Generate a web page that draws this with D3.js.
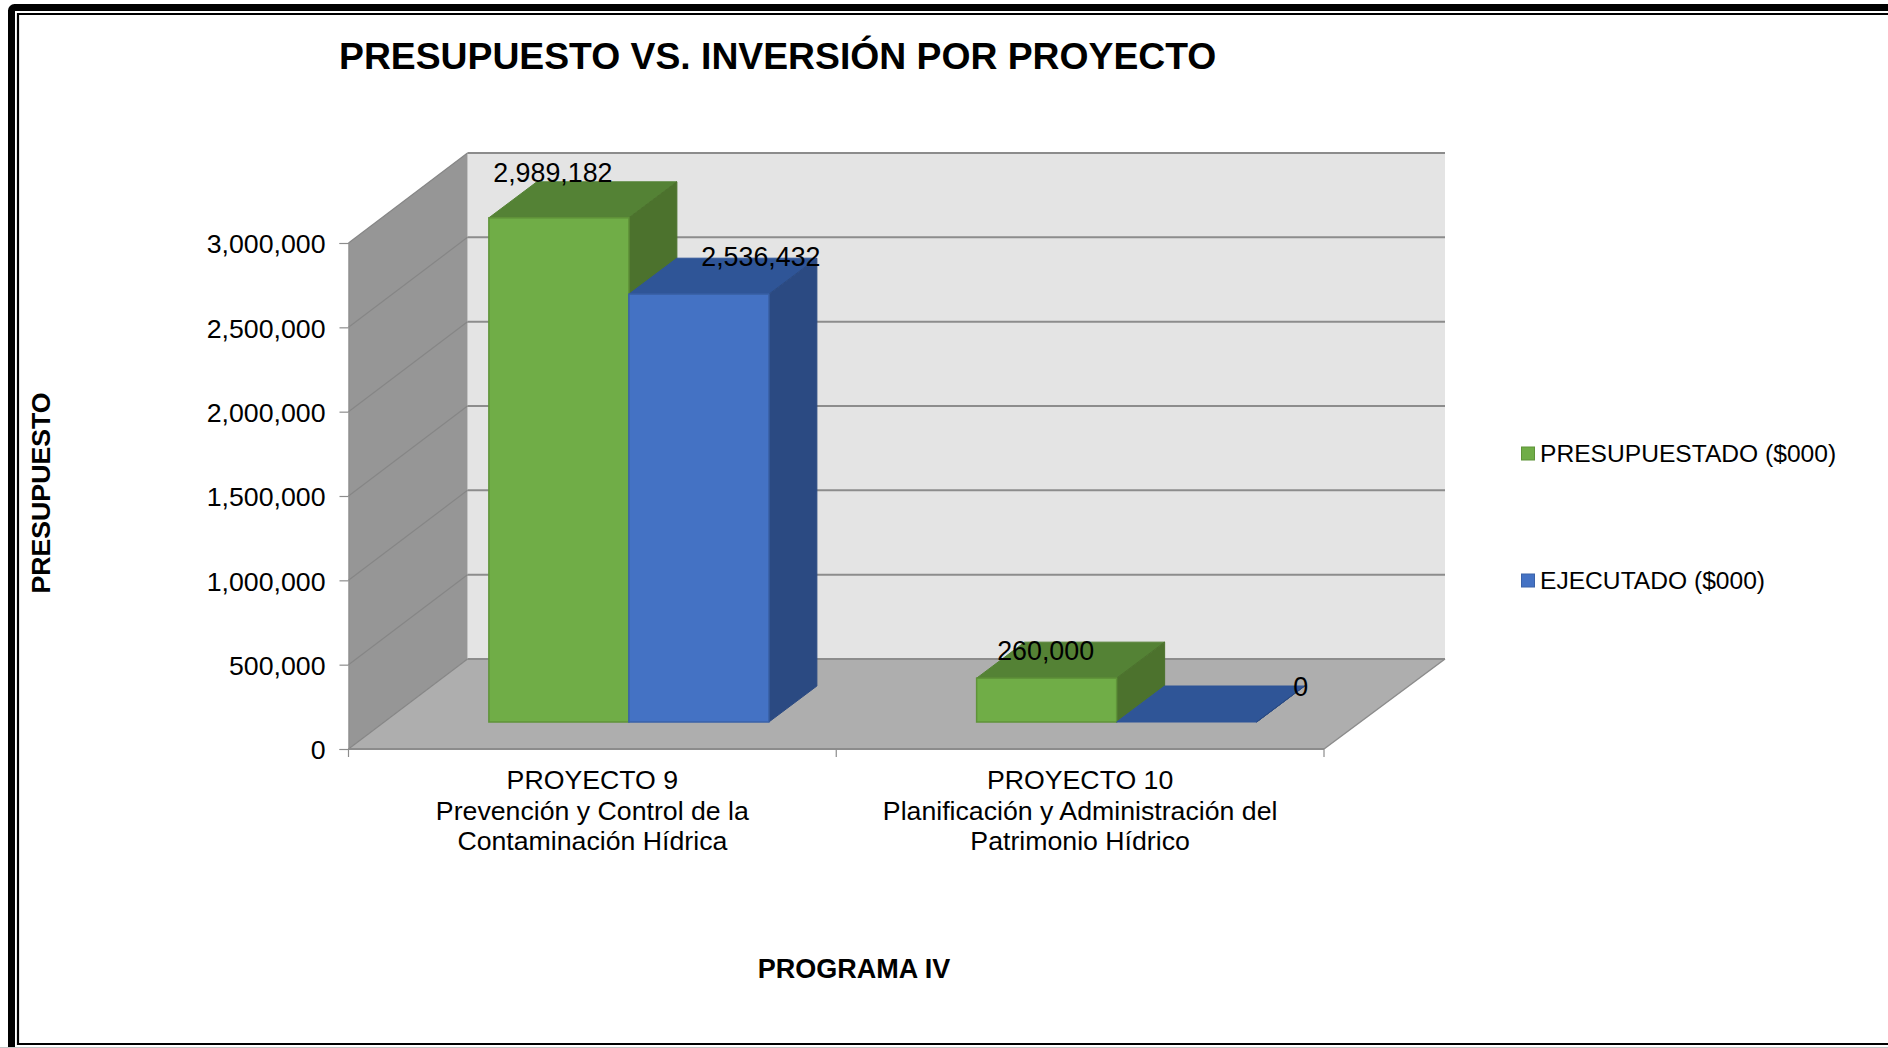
<!DOCTYPE html>
<html>
<head>
<meta charset="utf-8">
<script src="https://cdn.jsdelivr.net/npm/d3@7"></script>
<style>
    html, body { margin: 0; padding: 0; background: #fff; }
    svg { display: block; }
    text { font-family: "Liberation Sans", Arial, sans-serif; fill: #000; }
</style>
</head>
<body>
<svg id="chart"></svg>
<script>
// Data
const projects = ['PROYECTO 9', 'PROYECTO 10'];
const projectLabels = [
    ['PROYECTO 9', 'Prevención y Control de la', 'Contaminación Hídrica'],
    ['PROYECTO 10', 'Planificación y Administración del', 'Patrimonio Hídrico']
];
const seriesNames = ['PRESUPUESTADO ($000)', 'EJECUTADO ($000)'];
const presupuestado = [2989182, 260000];
const ejecutado = [2536432, 0];
const yTicks = [0, 500000, 1000000, 1500000, 2000000, 2500000, 3000000];

const colors = [
    { front: '#70ad47', top: '#548235', side: '#4c722d', edge: '#5f9339' },
    { front: '#4472c4', top: '#2f5597', side: '#2b4a82', edge: '#3a62a8' }
];

const width = 1888;
const height = 1048;

// Box of the 3D plot
const x0 = 348.5, x1 = 1324;
const yFloor = 749, yTop = 243;
const depthX = 119, depthY = -90;
// bars stand 30% into the floor and are this deep
const barShiftX = 36.5, barShiftY = -27;
const barDepthX = 48, barDepthY = -36;

const svg = d3.select('#chart').attr('width', width).attr('height', height);

const y = d3.scaleLinear().domain([0, 3000000]).range([yFloor, yTop]);
const xCat = d3.scaleBand().domain(projects).range([x0, x1]);
const xBar = d3.scaleBand().domain([0, 1]).range([0, 280]);
const barPad = (xCat.bandwidth() - 280) / 2;

const poly = pts => pts.map(p => p.join(',')).join(' ');

// Frame around the picture
svg.append('rect').attr('x', 11.5).attr('y', 7.5).attr('width', 1900).attr('height', 1100)
    .attr('rx', 3).attr('fill', 'none').attr('stroke', '#000').attr('stroke-width', 7);
svg.append('path').attr('d', `M${width + 5},14H18V1044H${width + 5}`)
    .attr('fill', 'none').attr('stroke', '#000').attr('stroke-width', 2.2);
svg.append('path').attr('d', `M0,1047.5H${width}`).attr('stroke', '#c4c4c4').attr('stroke-width', 1);

// Walls and floor
svg.append('polygon').attr('fill', '#e4e4e4')
    .attr('points', poly([[x0 + depthX, yTop + depthY], [x1 + depthX + 2, yTop + depthY], [x1 + depthX + 2, yFloor + depthY], [x0 + depthX, yFloor + depthY]]));
svg.append('polygon').attr('fill', '#969696')
    .attr('points', poly([[x0, yTop], [x0 + depthX, yTop + depthY], [x0 + depthX, yFloor + depthY], [x0, yFloor]]));
svg.append('polygon').attr('fill', '#aeaeae')
    .attr('points', poly([[x0, yFloor], [x0 + depthX, yFloor + depthY], [x1 + depthX + 2, yFloor + depthY], [x1, yFloor]]));

// Gridlines on both walls
const grid = svg.append('g');
grid.selectAll('.back').data(yTicks).enter().append('line')
    .attr('class', 'back')
    .attr('x1', x0 + depthX).attr('x2', x1 + depthX + 2)
    .attr('y1', d => y(d) + depthY).attr('y2', d => y(d) + depthY)
    .attr('stroke', '#8c8c8c').attr('stroke-width', 2);
grid.selectAll('.wall').data(yTicks).enter().append('line')
    .attr('class', 'wall')
    .attr('x1', x0).attr('x2', x0 + depthX)
    .attr('y1', d => y(d)).attr('y2', d => y(d) + depthY)
    .attr('stroke', '#868686').attr('stroke-width', 1.2);
grid.append('line').attr('x1', x1).attr('y1', yFloor).attr('x2', x1 + depthX + 2).attr('y2', yFloor + depthY)
    .attr('stroke', '#8c8c8c').attr('stroke-width', 1.5);

// Bars: each one is front + top + side
const bars = [];
projects.forEach((p, i) => {
    [presupuestado[i], ejecutado[i]].forEach((v, s) => {
        bars.push({ project: p, series: s, value: v });
    });
});

function drawBar(g, d) {
    const left = xCat(d.project) + barShiftX + barPad + xBar(d.series);
    const right = left + xBar.bandwidth();
    const base = yFloor + barShiftY;
    const top = y(d.value) + barShiftY;
    const c = colors[d.series];
    g.append('polygon').attr('fill', c.top).attr('stroke', c.top).attr('stroke-width', 1)
        .attr('points', poly([[left, top], [left + barDepthX, top + barDepthY], [right + barDepthX, top + barDepthY], [right, top]]));
    g.append('polygon').attr('fill', c.side).attr('stroke', c.side).attr('stroke-width', 1)
        .attr('points', poly([[right, top], [right + barDepthX, top + barDepthY], [right + barDepthX, base + barDepthY], [right, base]]));
    g.append('rect').attr('x', left).attr('y', top).attr('width', right - left).attr('height', base - top)
        .attr('fill', c.front).attr('stroke', c.edge).attr('stroke-width', 1.5);
}

const barLayer = svg.append('g');
bars.forEach(b => drawBar(barLayer, b));

// Value axis
const yAxis = d3.axisLeft(y).tickValues(yTicks).tickSize(9).tickPadding(14).tickFormat(d3.format(','));
const yG = svg.append('g').attr('transform', `translate(${x0},0)`).call(yAxis);
yG.select('.domain').attr('stroke', '#8c8c8c').attr('stroke-width', 1);
yG.selectAll('line').attr('stroke', '#8c8c8c').attr('stroke-width', 1.2);
yG.selectAll('text').style('font-size', '26.7px').attr('fill', '#000').attr('dy', '0.37em');

// Category axis
svg.append('line').attr('x1', x0).attr('x2', x1).attr('y1', yFloor).attr('y2', yFloor)
    .attr('stroke', '#8c8c8c').attr('stroke-width', 2);
svg.selectAll('.catTick').data([x0, xCat(projects[1]), x1]).enter().append('line')
    .attr('class', 'catTick')
    .attr('x1', d => d).attr('x2', d => d).attr('y1', yFloor).attr('y2', yFloor + 8)
    .attr('stroke', '#8c8c8c').attr('stroke-width', 1.2);

projects.forEach((p, i) => {
    svg.append('g').selectAll('text').data(projectLabels[i]).enter().append('text')
        .attr('x', xCat(p) + xCat.bandwidth() / 2)
        .attr('y', (d, k) => 789 + k * 30.7)
        .attr('text-anchor', 'middle')
        .style('font-size', '26.7px')
        .text(d => d);
});

// Data labels, their nudges follow how the labels sit in the picture
const labelNudges = [[64, -36], [132, -28], [69, -18], [184, -26]];
svg.append('g').selectAll('text').data(bars).enter().append('text')
    .attr('x', (d, i) => xCat(d.project) + barShiftX + barPad + xBar(d.series) + labelNudges[i][0])
    .attr('y', (d, i) => y(d.value) + barShiftY + labelNudges[i][1])
    .attr('text-anchor', 'middle')
    .style('font-size', '26.8px')
    .text(d => d3.format(',')(d.value));

// Titles
svg.append('text').attr('x', 339).attr('y', 69)
    .style('font-size', '37.3px').style('font-weight', 'bold')
    .text('PRESUPUESTO VS. INVERSIÓN POR PROYECTO');
svg.append('text').attr('transform', 'translate(50,493) rotate(-90)')
    .attr('text-anchor', 'middle')
    .style('font-size', '26.7px').style('font-weight', 'bold')
    .text('PRESUPUESTO');
svg.append('text').attr('x', 854).attr('y', 978)
    .attr('text-anchor', 'middle')
    .style('font-size', '27px').style('font-weight', 'bold')
    .text('PROGRAMA IV');

// Legend
const legendY = d3.scalePoint().domain(seriesNames).range([453, 580]);
const legend = svg.append('g').selectAll('g').data(seriesNames).enter().append('g')
    .attr('transform', d => `translate(1521.5,${legendY(d)})`);
legend.append('rect').attr('x', 0).attr('y', -6).attr('width', 13).attr('height', 13)
    .attr('fill', (d, i) => colors[i].front).attr('stroke', (d, i) => colors[i].edge).attr('stroke-width', 1);
legend.append('text').attr('x', 18.5).attr('y', 9)
    .style('font-size', '24.6px')
    .text(d => d);
</script>
</body>
</html>
